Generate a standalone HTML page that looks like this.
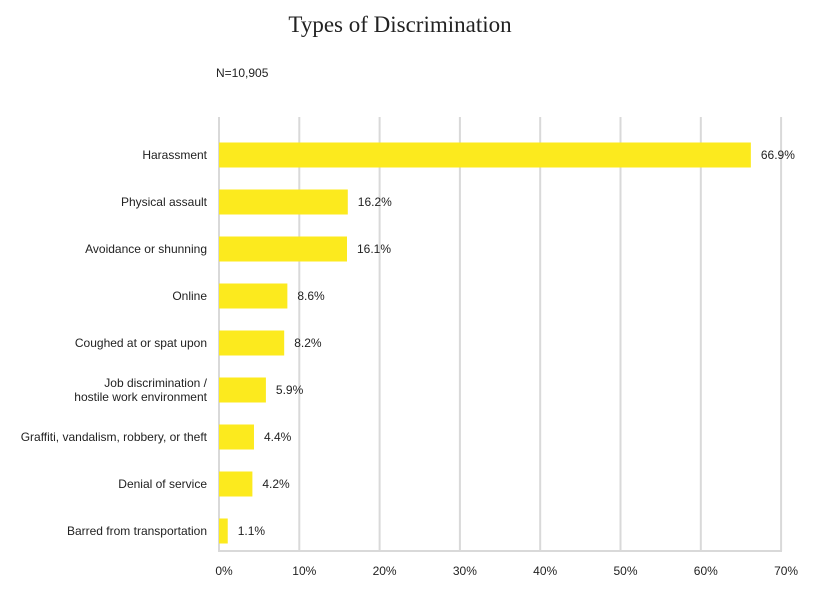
<!DOCTYPE html>
<html><head><meta charset="utf-8"><style>
body{margin:0;background:#fff;}
svg text{font-family:"Liberation Sans",sans-serif;fill:#222;}
</style></head><body>
<svg id="chart" width="816" height="597" xmlns="http://www.w3.org/2000/svg">
<text x="400" y="32" text-anchor="middle" style="font-family:'Liberation Serif',serif;font-size:23px;">Types of Discrimination</text>
<text x="216" y="77" font-size="12">N=10,905</text>
<g id="grid"></g><g id="bars"></g>
</svg>
<script>
const categories=[["Harassment"],["Physical assault"],["Avoidance or shunning"],["Online"],["Coughed at or spat upon"],["Job discrimination /","hostile work environment"],["Graffiti, vandalism, robbery, or theft"],["Denial of service"],["Barred from transportation"]];
const values=[66.9,16.2,16.1,8.6,8.2,5.9,4.4,4.2,1.1];
const valueLabels=["66.9%","16.2%","16.1%","8.6%","8.2%","5.9%","4.4%","4.2%","1.1%"];
const ticks=[0,10,20,30,40,50,60,70];
const tickLabels=["0%","10%","20%","30%","40%","50%","60%","70%"];
const NS="http://www.w3.org/2000/svg";
const x=v=>219+v*8.03;
const xb=v=>219+v*7.95;
const y=i=>155+i*47;
const grid=document.getElementById('grid'),bars=document.getElementById('bars');
function mk(t,a,p){const e=document.createElementNS(NS,t);for(const k in a)e.setAttribute(k,a[k]);p.appendChild(e);return e;}
ticks.forEach((t,i)=>{
 const l=mk('line',{x1:x(t),x2:x(t),y1:117,y2:551,stroke:'#d9d9d9','stroke-width':2},grid);
 
 
 const tx=mk('text',{x:x(t)+5,y:575,'text-anchor':'middle','font-size':12},grid);
 tx.textContent=tickLabels[i];
 
 
});
const base=mk('line',{x1:218,x2:782,y1:551,y2:551,stroke:'#d9d9d9','stroke-width':2},grid);


values.forEach((v,i)=>{
 const end=xb(v);
 const r=mk('rect',{x:x(0),y:y(i)-12.5,width:end-x(0),height:25,fill:'#fcea1e'},bars);
 
 
 const vl=mk('text',{x:end+10,y:y(i)+4,'font-size':12},bars);
 vl.textContent=valueLabels[i];
 
 
 const c=categories[i];
 c.forEach((s,j)=>{
  const t=mk('text',{x:207,y:y(i)+4+(j-(c.length-1)/2)*14,'text-anchor':'end','font-size':12},bars);
  t.textContent=s;
  
  
 });
});
</script>
</body></html>
